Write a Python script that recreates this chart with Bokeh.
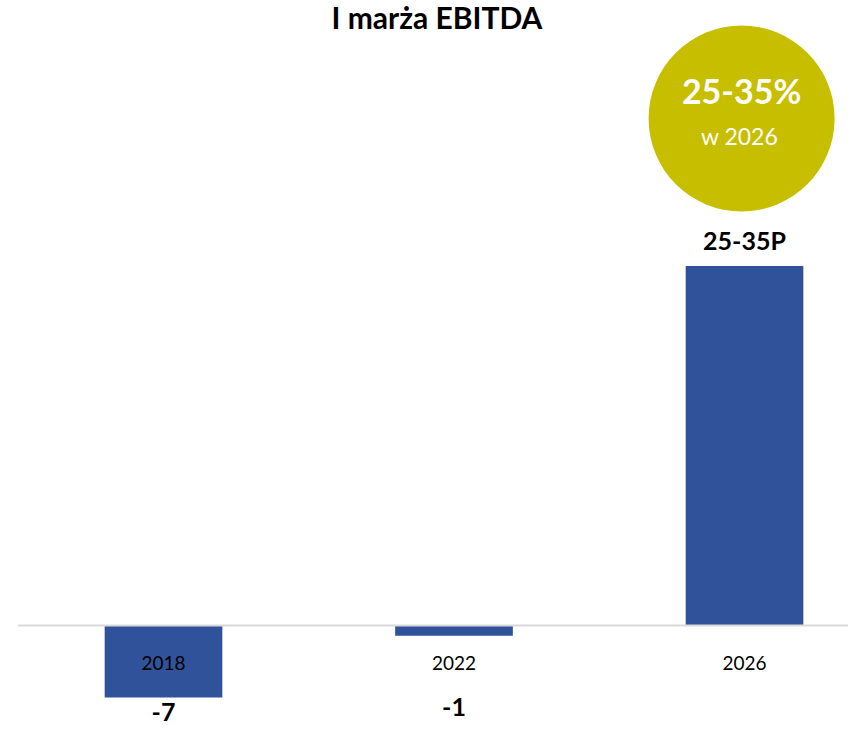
from bokeh.plotting import figure
from bokeh.models import ColumnDataSource, Range1d
from bokeh.core.properties import value
from bokeh.embed import file_html
from bokeh.resources import INLINE

# ---- data ----
categories = ["2018", "2022", "2026"]
values = [-7, -1, 35]
value_labels = ["-7", "-1", "25-35P"]
title_text = "I marża EBITDA"
badge_main = "25-35%"
badge_sub = "w 2026"

# ---- layout / style ----
BAR_COLOR = "#30529B"
BADGE_COLOR = "#C8BE00"
AXIS_COLOR = "#D9D9D9"
FONT = "Lato"

xs = list(range(len(categories)))
# pixel offsets for value labels (positive = down)
label_offsets = [15, 81, -26]
label_y = [v if v > 0 or i != 1 else 0 for i, v in enumerate(values)]

p = figure(width=848, height=726, output_backend="svg", toolbar_location=None,
           x_range=Range1d(-0.5611, 2.358), y_range=Range1d(-9.83, 60.86),
           min_border=0, min_border_left=0, min_border_right=0,
           min_border_top=0, min_border_bottom=0)
p.xaxis.visible = False
p.yaxis.visible = False
p.xgrid.visible = False
p.ygrid.visible = False
p.outline_line_color = None
p.background_fill_color = "white"
p.border_fill_color = "white"

src = ColumnDataSource(dict(x=xs, top=values, cat=categories,
                            lab=value_labels, ly=label_y, loff=label_offsets))

p.vbar(x="x", top="top", bottom=0, width=0.405, source=src,
       fill_color=BAR_COLOR, line_color=None)

# zero axis line
p.segment(x0=[-0.5], y0=[0], x1=[2.6], y1=[0], line_color=AXIS_COLOR, line_width=2)

# category labels
p.text(x="x", y=0, text="cat", source=src, y_offset=37,
       text_align="center", text_baseline="middle",
       text_font=value(FONT), text_font_size="19px", text_color="#000000")

# value labels
p.text(x="x", y="ly", text="lab", source=src, y_offset="loff",
       text_align="center", text_baseline="middle",
       text_font=value(FONT), text_font_size="25px", text_font_style="bold",
       text_color="#000000")

# badge circle
badge_x = xs[2] - 0.01
badge_y = 49.37
p.scatter(x=[badge_x], y=[badge_y], size=186, marker="circle",
          fill_color=BADGE_COLOR, line_color=None)
p.text(x=[badge_x], y=[badge_y], text=[badge_main], y_offset=-28,
       text_align="center", text_baseline="middle",
       text_font=value(FONT), text_font_size="34px", text_font_style="bold",
       text_color="white")
p.text(x=[badge_x], y=[badge_y], text=[badge_sub], x_offset=-2, y_offset=17,
       text_align="center", text_baseline="middle",
       text_font=value(FONT), text_font_size="23px", text_color="white")

# title
p.text(x=[1], y=[60.86], text=[title_text], x_offset=-17, y_offset=-2,
       text_align="center", text_baseline="top",
       text_font=value(FONT), text_font_size="30px", text_font_style="bold",
       text_color="#000000")

open("out.html", "w").write(file_html(p, INLINE))
